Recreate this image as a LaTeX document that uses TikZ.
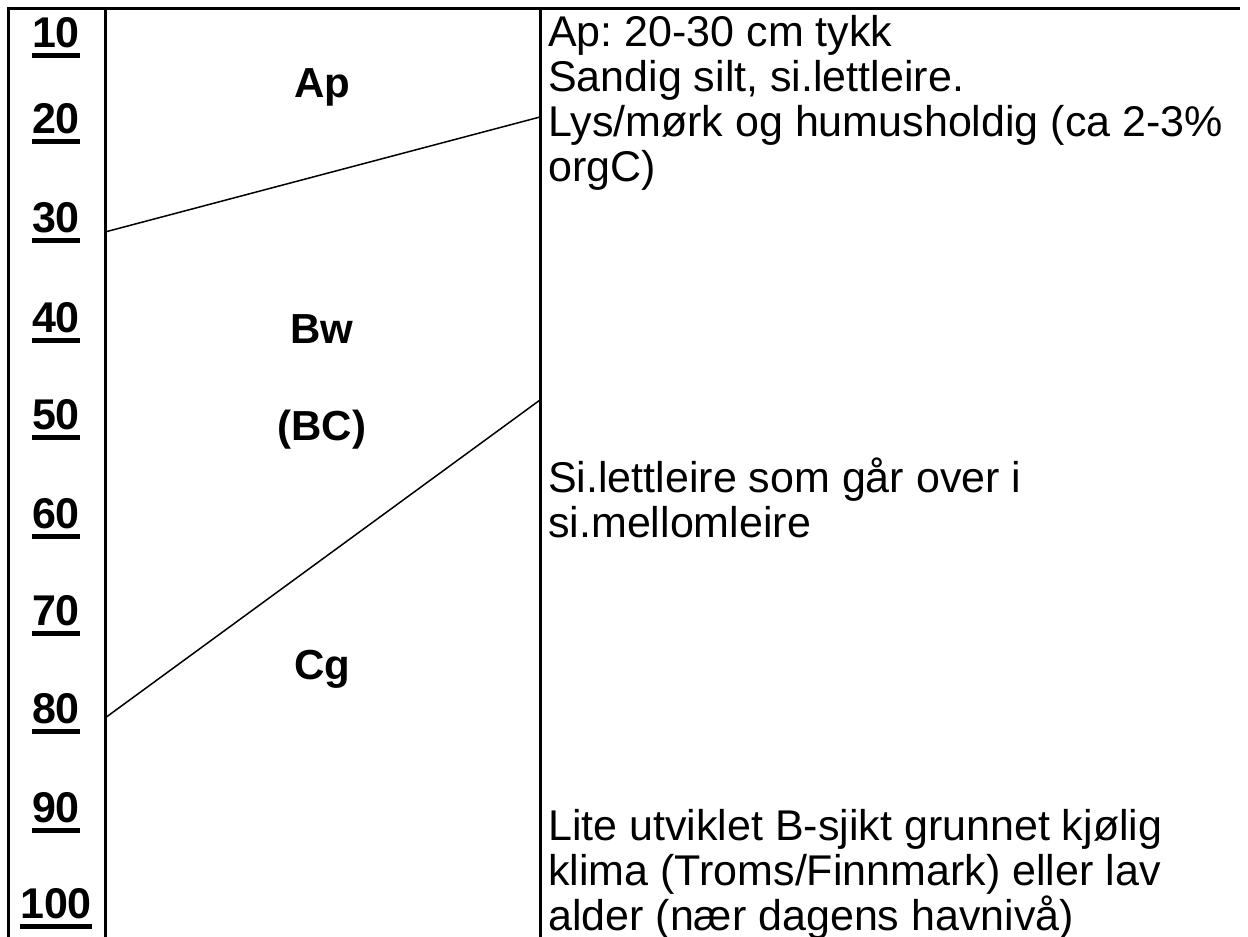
\documentclass[tikz,border=0pt]{standalone}
\usepackage{fontspec}
\setmainfont{Liberation Sans}
\usetikzlibrary{positioning}
\frenchspacing

% underlined depth number
\newcommand{\depthul}[1]{\setbox0\hbox{#1}\rlap{\vrule width\wd0 height -6pt depth 10.5pt}\box0}

\begin{document}
\begin{tikzpicture}[
            x=1pt, y=-1pt,
            frame/.style={
                line width=3pt,
                line cap=rect
            },
            border/.style={
                line width=1.5pt
            },
            depth/.style={
                anchor=base,
                inner sep=0pt,
                font=\fontsize{43}{44}\selectfont\bfseries
            },
            horizon/.style={
                anchor=base,
                inner sep=0pt,
                font=\fontsize{42}{44}\selectfont\bfseries
            },
            desc/.style={
                anchor=base west,
                inner sep=0pt,
                align=left,
                font=\fontsize{43}{44.7}\selectfont
            }
        ]
            \useasboundingbox (0,0) rectangle (1248,937);

            % frame
            \coordinate (tl) at (8,8);
            \coordinate (tr) at (1238,8);
            \coordinate (bl) at (8,940);
            \coordinate (c2t) at (105,8);
            \coordinate (c2b) at (105,940);
            \coordinate (c3t) at (540,8);
            \coordinate (c3b) at (540,940);

            \draw [frame] (bl) -- (tl) -- (tr);
            \draw [frame] (c2t) -- (c2b);
            \draw [frame] (c3t) -- (c3b);

            % horizon borders
            \coordinate (ap-l) at (105,232);
            \coordinate (ap-r) at (540,117);
            \coordinate (bw-l) at (105,718);
            \coordinate (bw-r) at (540,400);

            \draw [border] (ap-l) -- (ap-r);
            \draw [border] (bw-l) -- (bw-r);

            % depth scale
            \foreach \d/\y in {10/47, 20/133, 30/232, 40/332, 50/429,
                               60/528, 70/625, 80/723, 90/822, 100/918}
                \node [depth] (d\d) at (56,\y) {\depthul{\d}};

            % horizons
            \node [horizon] (ap) at (322,97) {Ap};
            \node [horizon] (bw) at (322,343) {Bw};
            \node [horizon] (bc) at (322,440) {(BC)};
            \node [horizon] (cg) at (322,679) {Cg};

            % descriptions (placed at the baseline of their last line)
            \node [desc] (txt-ap) at (548,181) {Ap: 20-30 cm tykk\\Sandig silt, si.lettleire.\\Lys/mørk og humusholdig (ca 2-3\%\\orgC)};
            \node [desc] (txt-si) at (548,537) {Si.lettleire som går over i\\si.mellomleire};
            \node [desc] (txt-lite) at (548,930) {Lite utviklet B-sjikt grunnet kjølig\\klima (Troms/Finnmark) eller lav\\alder (nær dagens havnivå)};

        \end{tikzpicture}
\end{document}
